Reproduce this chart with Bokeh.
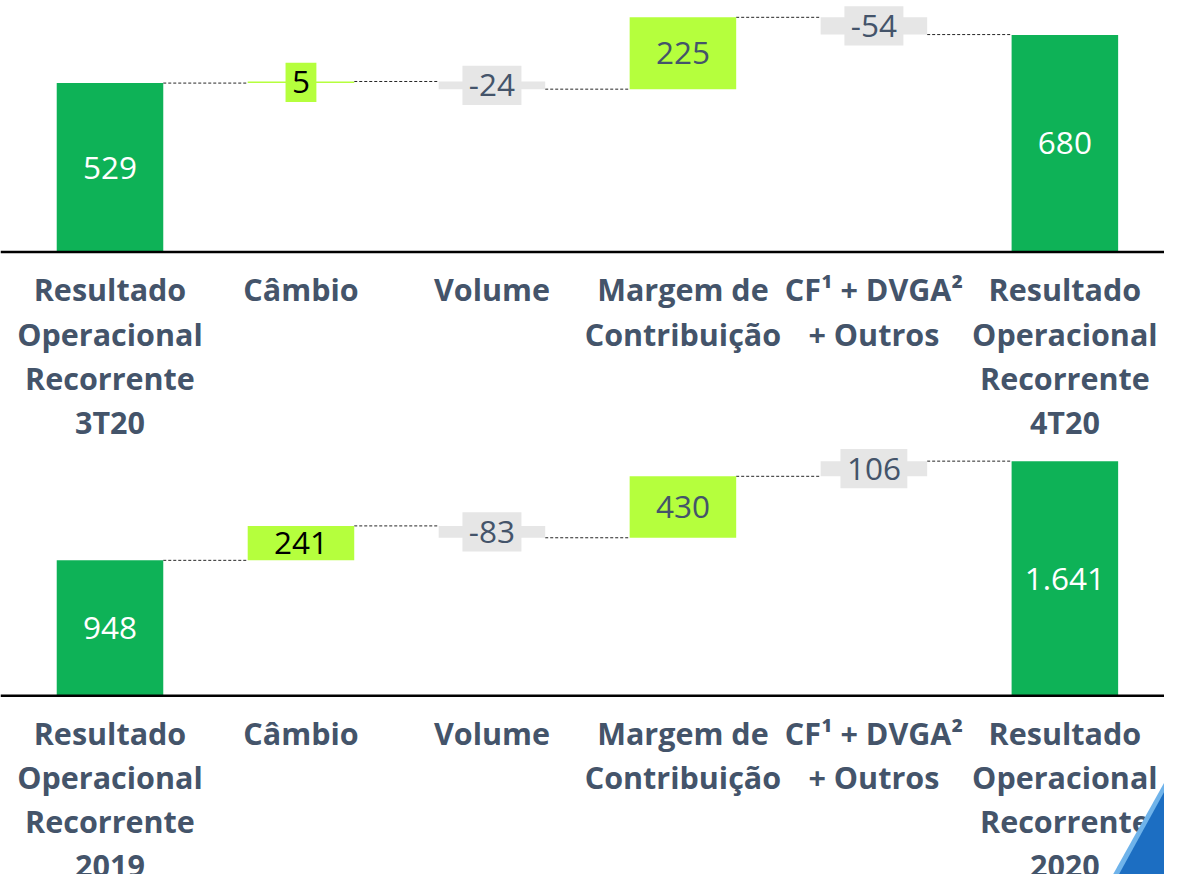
from bokeh.plotting import figure
from bokeh.layouts import column
from bokeh.models import Range1d, Span
from bokeh.core.properties import value
from bokeh.embed import file_html
from bokeh.resources import INLINE

# ---------------- data ----------------
categories_q = ["Resultado\nOperacional\nRecorrente\n3T20", "Câmbio", "Volume",
                "Margem de\nContribuição", "CF¹ + DVGA²\n+ Outros",
                "Resultado\nOperacional\nRecorrente\n4T20"]
start_q = 529
deltas_q = [5, -24, 225, -54]
end_q = 680

categories_y = ["Resultado\nOperacional\nRecorrente\n2019", "Câmbio", "Volume",
                "Margem de\nContribuição", "CF¹ + DVGA²\n+ Outros",
                "Resultado\nOperacional\nRecorrente\n2020"]
start_y = 948
deltas_y = [241, -83, 430, 106]
end_y = 1641

# ---------------- layout / styles ----------------
REF_W, REF_H = 1180, 890
W, H_TOTAL = 1164, 874
SX = W / REF_W
SY = H_TOTAL / REF_H
SF = (SX + SY) / 2

SPACING = 193.6        # reference px per category
CENTER0 = 111          # reference px of first category centre
BAR_W = 108 / SPACING
SPLIT = 454            # reference px where the two charts meet

DARK = "#0EB257"
LIGHT = "#B5FF3D"
GREY = "#E6E6E6"
SLATE = "#44546A"
DELTA_FILL = [LIGHT, GREY, LIGHT, GREY]
DELTA_TEXT = ["#000000", SLATE, SLATE, SLATE]
FONT = "Open Sans"
FS = 32 * SF
LFS = 31 * SF


def fmt_total(v):
    return "{:,}".format(v).replace(",", ".")


def text_px(s):
    w = 0.0
    for ch in s:
        if ch.isdigit():
            w += 0.572 * FS
        elif ch == "-":
            w += 0.322 * FS
        else:
            w += 0.266 * FS
    return w


def make_chart(cats, start, deltas, end, k, base, ref_top, ref_bottom, height):
    # k: reference px per unit, base: reference px of the zero line
    h_ref = ref_bottom - ref_top
    rel_base = base - ref_top
    p = figure(width=W, height=height, output_backend="svg", toolbar_location=None,
               x_range=Range1d(-CENTER0 / SPACING, (REF_W - CENTER0) / SPACING),
               y_range=Range1d((rel_base - h_ref) / k, rel_base / k),
               x_axis_location=None, y_axis_location=None, min_border=0)
    p.grid.visible = False
    p.outline_line_color = None
    p.background_fill_color = "white"
    p.border_fill_color = "white"

    n = len(cats)
    xs = list(range(n))
    running = [start]
    for d in deltas:
        running.append(running[-1] + d)

    bottoms = [0] + [min(running[i], running[i + 1]) for i in range(len(deltas))] + [0]
    tops = [start] + [max(running[i], running[i + 1]) for i in range(len(deltas))] + [end]
    fills = [DARK] + DELTA_FILL + [DARK]
    tcols = ["white"] + DELTA_TEXT + ["white"]
    labels = [fmt_total(start)] + [str(d) for d in deltas] + [fmt_total(end)]

    p.add_layout(Span(location=0, dimension="width", line_color="black", line_width=2.5))

    # connectors
    p.segment(x0=[i + BAR_W / 2 for i in range(n - 1)], y0=running,
              x1=[i + 1 - BAR_W / 2 for i in range(n - 1)], y1=running,
              line_color="#262626", line_width=1, line_dash="3 2")

    p.quad(left=[x - BAR_W / 2 for x in xs], right=[x + BAR_W / 2 for x in xs],
           bottom=bottoms, top=tops, fill_color=fills, line_color=None)

    mids = [(b + t) / 2 for b, t in zip(bottoms, tops)]

    # label boxes for thin delta bars
    bx, by, bw, bc = [], [], [], []
    for i, d in enumerate(deltas, start=1):
        if abs(d) * k < 30:
            bx.append(i)
            by.append(mids[i])
            bw.append(text_px(labels[i]) + 13 * SX)
            bc.append(fills[i])
    if bx:
        p.rect(x=bx, y=by, width=bw, height=40 * SY, width_units="screen",
               height_units="screen", fill_color=bc, line_color=None)

    p.text(x=xs, y=mids, text=labels, text_align="center", text_baseline="middle",
           text_font=value(FONT), text_font_size=f"{FS:.1f}px", text_color=tcols)

    # category labels
    lx, ly, lt = [], [], []
    for i, c in enumerate(cats):
        for j, line in enumerate(c.split("\n")):
            lx.append(i)
            ly.append(-(38 + 45 * j) / k)
            lt.append(line)
    p.text(x=lx, y=ly, text=lt, text_align="center", text_baseline="middle",
           text_font=value(FONT), text_font_size=f"{LFS:.1f}px", text_font_style="bold",
           text_color=SLATE)
    return p


K1, BASE1 = 0.325, 256
K2, BASE2 = 0.1456, 708
H1 = round(SPLIT * SY)
H2 = H_TOTAL - H1
p1 = make_chart(categories_q, start_q, deltas_q, end_q, K1, BASE1, 0, SPLIT, H1)
p2 = make_chart(categories_y, start_y, deltas_y, end_y, K2, BASE2, SPLIT, REF_H, H2)


# decorative slide corner (reference pixel positions converted to data space)
def rx(px):
    return (px - CENTER0) / SPACING


def ry(py):
    return (BASE2 - py) / K2


p2.patch(x=[rx(1125), rx(1185), rx(1185)], y=[ry(895), ry(787), ry(895)],
         fill_color="#6FB3EA", line_color=None)
p2.patch(x=[rx(1131), rx(1185), rx(1185)], y=[ry(895), ry(796), ry(895)],
         fill_color="#1C6EC2", line_color=None)

layout = column(p1, p2, spacing=0)
open("out.html", "w").write(file_html(layout, INLINE))
